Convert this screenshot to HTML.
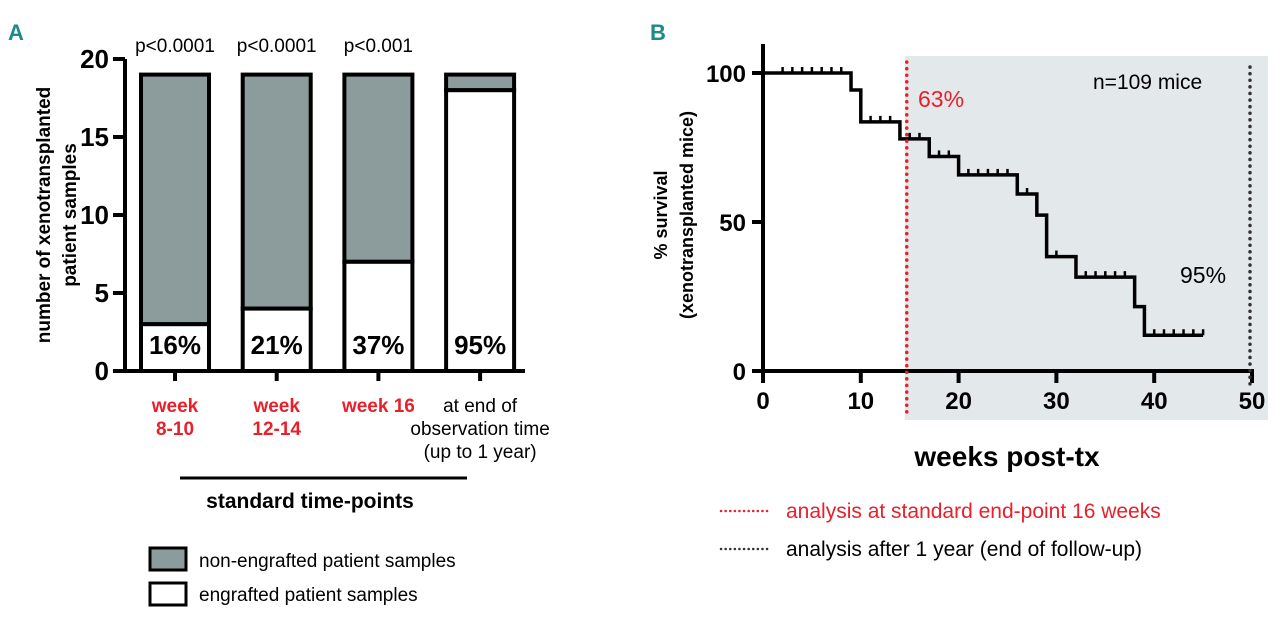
<!DOCTYPE html>
<html><head><meta charset="utf-8">
<style>
html,body{margin:0;padding:0;background:#fff;}
svg{display:block;font-family:"Liberation Sans Narrow","Liberation Sans",sans-serif;}
</style></head>
<body>
<svg id="fig" width="1280" height="619" viewBox="0 0 1280 619" xmlns="http://www.w3.org/2000/svg">
<text x="8" y="40" font-size="22" font-weight="bold" fill="#1a8a8a">A</text>
<text x="650" y="40" font-size="22" font-weight="bold" fill="#1a8a8a">B</text>
<g id="chartA"></g>
<g id="chartB"></g>
</svg>
<script>
const NS="http://www.w3.org/2000/svg";
// ---- Panel A data ----
const catLabels=[["week","8-10"],["week","12-14"],["week 16"],["at end of","observation time","(up to 1 year)"]];
const catColors=["#e8202a","#e8202a","#e8202a","#000"];
const totals=[19,19,19,19];
const engrafted=[3,4,7,18];
const pctLabels=["16%","21%","37%","95%"];
const pLabels=["p<0.0001","p<0.0001","p<0.001",""];
const yTicksA=[0,5,10,15,20];
// ---- Panel B data ----
const stepTimes=[0,9,10,14,17,20,26,28,29,32,38,39,45];
const stepSurv=[100,94.3,83.6,77.9,72,65.8,59.4,52.3,38.4,31.5,21.6,12,12];
const censorTimes=[2,3,4,5,6,7,8,11,12,13,15,16,18,19,21,22,23,24,25,27,30,33,34,35,36,37,40,41,42,43,44,45];
const xTicksB=[0,10,20,30,40,50];
const yTicksB=[0,50,100];

function mk(parent,tag,attrs,text){const e=document.createElementNS(NS,tag);for(const k in attrs)e.setAttribute(k,attrs[k]);if(text!==undefined)e.textContent=text;parent.appendChild(e);return e;}

// ---- Panel A ----
const A=document.getElementById('chartA');
const yA=v=>371-v*15.6;
const xA=i=>175+i*101.7;
const bw=68;
mk(A,'line',{x1:125,y1:yA(0),x2:125,y2:yA(20),stroke:'#000','stroke-width':4});
mk(A,'line',{x1:123,y1:yA(0),x2:525,y2:yA(0),stroke:'#000','stroke-width':4});
yTicksA.forEach(t=>{
 const l=mk(A,'line',{x1:113,y1:yA(t),x2:125,y2:yA(t),stroke:'#000','stroke-width':4});
 
 
 const tx=mk(A,'text',{x:109,y:yA(t)+9,'font-size':26,'font-weight':'bold','text-anchor':'end'},String(t));
 
 
});
const yt=mk(A,'text',{transform:'translate(50,215) rotate(-90)','font-size':19,'font-weight':'bold','text-anchor':'middle',fill:'#000'});


mk(yt,'tspan',{x:0,y:0},'number of xenotransplanted');
mk(yt,'tspan',{x:0,y:26},'patient samples');
totals.forEach((tot,i)=>{
 const cx=xA(i),x0=cx-bw/2;
 const g=mk(A,'rect',{x:x0,y:yA(tot),width:bw,height:yA(engrafted[i])-yA(tot),fill:'#8c9b9b',stroke:'#000','stroke-width':4});
 
 
 const w=mk(A,'rect',{x:x0,y:yA(engrafted[i]),width:bw,height:yA(0)-yA(engrafted[i]),fill:'#fff',stroke:'#000','stroke-width':4});
 
 
 const pt=mk(A,'text',{x:cx,y:yA(0)-17,'font-size':26,'font-weight':'bold','text-anchor':'middle'},pctLabels[i]);
 
 
 if(pLabels[i]){const pl=mk(A,'text',{x:cx,y:52,'font-size':19,'text-anchor':'middle'},pLabels[i]);
 
 }
 mk(A,'line',{x1:cx,y1:yA(0),x2:cx,y2:yA(0)+10,stroke:'#000','stroke-width':4});
 catLabels[i].forEach((s,j)=>{
  const c=mk(A,'text',{x:cx,y:412+j*23,'font-size':19,'font-weight':i<3?'bold':'normal','text-anchor':'middle',fill:catColors[i]},s);
  
  
 });
});
mk(A,'line',{x1:180,y1:478,x2:467,y2:478,stroke:'#000','stroke-width':3});
const st=mk(A,'text',{x:310,y:508,'font-size':21,'font-weight':'bold','text-anchor':'middle'},'standard time-points');


const l1=mk(A,'rect',{x:150,y:548,width:36,height:22,fill:'#8c9b9b',stroke:'#000','stroke-width':3});


const lt1=mk(A,'text',{x:199,y:567,'font-size':19},'non-engrafted patient samples');


const l2=mk(A,'rect',{x:150,y:583,width:36,height:22,fill:'#fff',stroke:'#000','stroke-width':3});


const lt2=mk(A,'text',{x:199,y:601,'font-size':19},'engrafted patient samples');



// ---- Panel B ----
const B=document.getElementById('chartB');
const xB=w=>763+w*9.78;
const yB=s=>371-s*2.98;
const sh=mk(B,'rect',{x:xB(14.5),y:56,width:1268-xB(14.5),height:364,fill:'#e3e8ea'});


mk(B,'line',{x1:763,y1:44,x2:763,y2:373,stroke:'#000','stroke-width':4});
mk(B,'line',{x1:761,y1:yB(0),x2:xB(50)+2,y2:yB(0),stroke:'#000','stroke-width':4});
xTicksB.forEach(t=>{
 mk(B,'line',{x1:xB(t),y1:yB(0),x2:xB(t),y2:yB(0)+12,stroke:'#000','stroke-width':4});
 const tx=mk(B,'text',{x:xB(t),y:yB(0)+38,'font-size':24,'font-weight':'bold','text-anchor':'middle'},String(t));
 
 
});
yTicksB.forEach(t=>{
 mk(B,'line',{x1:752,y1:yB(t),x2:763,y2:yB(t),stroke:'#000','stroke-width':4});
 const tx=mk(B,'text',{x:746,y:yB(t)+9,'font-size':24,'font-weight':'bold','text-anchor':'end'},String(t));
 
 
});
const ytb=mk(B,'text',{transform:'translate(667,215) rotate(-90)','font-size':18,'font-weight':'bold','text-anchor':'middle'});


mk(ytb,'tspan',{x:0,y:0},'% survival');
mk(ytb,'tspan',{x:0,y:26},'(xenotransplanted mice)');
const xt=mk(B,'text',{x:1007,y:466,'font-size':28,'font-weight':'bold','text-anchor':'middle'},'weeks post-tx');


let d='M'+xB(stepTimes[0])+','+yB(stepSurv[0]);
for(let i=1;i<stepTimes.length;i++){d+=' H'+xB(stepTimes[i])+' V'+yB(stepSurv[i]);}
const curve=mk(B,'path',{d:d,fill:'none',stroke:'#000','stroke-width':3.5});


censorTimes.forEach(t=>{
 let s=stepSurv[0];
 for(let i=0;i<stepTimes.length;i++){if(stepTimes[i]<=t)s=stepSurv[i];}
 const c=mk(B,'line',{x1:xB(t),y1:yB(s),x2:xB(t),y2:yB(s)-6,stroke:'#000','stroke-width':2.5});
 
 
});
const rl=mk(B,'line',{x1:xB(14.7),y1:62,x2:xB(14.7),y2:418,stroke:'#e8202a','stroke-width':3.5,'stroke-dasharray':'0.1 6.5','stroke-linecap':'round'});


const bl=mk(B,'line',{x1:1250,y1:67,x2:1250,y2:385,stroke:'#333','stroke-width':3.5,'stroke-dasharray':'0.1 6.5','stroke-linecap':'round'});


const t63=mk(B,'text',{x:918,y:107,'font-size':23,fill:'#e8202a'},'63%');


const t95=mk(B,'text',{x:1180,y:283,'font-size':23},'95%');


const tn=mk(B,'text',{x:1093,y:89,'font-size':21},'n=109 mice');


mk(B,'line',{x1:721,y1:511,x2:768,y2:511,stroke:'#e8202a','stroke-width':2.5,'stroke-dasharray':'0.1 4.5','stroke-linecap':'round'});
const lb1=mk(B,'text',{x:786,y:518,'font-size':21,fill:'#e8202a'},'analysis at standard end-point 16 weeks');


mk(B,'line',{x1:721,y1:549,x2:768,y2:549,stroke:'#333','stroke-width':2.5,'stroke-dasharray':'0.1 4.5','stroke-linecap':'round'});
const lb2=mk(B,'text',{x:786,y:556,'font-size':21},'analysis after 1 year (end of follow-up)');


</script>
</body></html>
